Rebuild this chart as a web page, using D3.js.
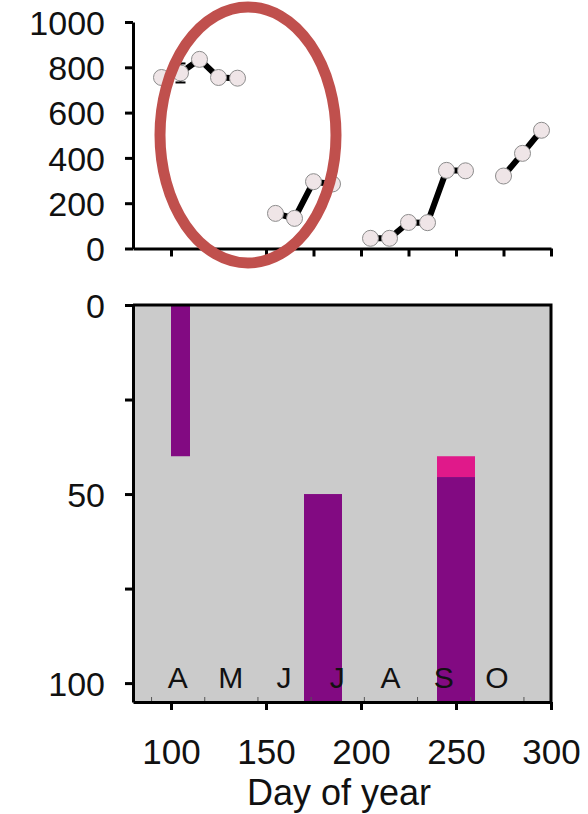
<!DOCTYPE html>
<html lang="en">
	<head>
		<meta charset="UTF-8" />
		<title>Day of year</title>
		<script src="https://d3js.org/d3.v7.min.js"></script>
		<style>
			body {
				margin: 0;
				background: #fff;
			}
			svg {
				font-family: "Liberation Sans", Arial, sans-serif;
			}
			.axis path,
			.axis line {
				stroke: #000;
				stroke-width: 3;
			}
			.axis text {
				fill: #111;
			}
		</style>
	</head>
	<body>
		<svg></svg>
		<script>
			// Top panel: points grouped in runs (day of year, value)
			const RUN_DAYS = [
				[95, 105, 115, 125, 135],
				[155, 165, 175, 185],
				[205, 215, 225, 235, 245, 255],
				[275, 285, 295],
			];
			const RUN_VALUES = [
				[755, 775, 835, 755, 752],
				[155, 133, 295, 285],
				[45, 45, 115, 114, 345, 343],
				[320, 420, 522],
			];
			const ERROR_DAYS = [105];
			const ERROR_VALUES = [775];
			const ERROR_SIZE = [42];

			// Bottom panel: bars (day span and depth span)
			const PURPLE_BARS = [
				{ start: 100, end: 110, from: 0, to: 40 },
				{ start: 170, end: 190, from: 50, to: 105 },
				{ start: 240, end: 260, from: 45.5, to: 105 },
			];
			const MAGENTA_BARS = [{ start: 240, end: 260, from: 40, to: 45.5 }];

			// Month letters and boundaries
			const MONTH_LABELS = ["A", "M", "J", "J", "A", "S", "O"];
			const MONTH_DAYS = [103.5, 131.5, 159.5, 187.5, 215.5, 243.5, 271.5];
			const MONTH_EDGES = [89.5, 117.5, 145.5, 173.5, 201.5, 229.5, 257.5, 285.5];

			const TOP_TICKS = [0, 200, 400, 600, 800, 1000];
			const TOP_X_TICKS = [100, 125, 150, 175, 200, 225, 250, 275, 300];
			const DEPTH_TICKS = [0, 25, 50, 75, 100];
			const DEPTH_LABELS = [0, 50, 100];
			const DAY_TICKS = [100, 150, 200, 250, 300];

			const WIDTH = 588;
			const HEIGHT = 814;
			const LEFT = 133;
			const RIGHT = 551;

			const svg = d3.select("svg").attr("width", WIDTH).attr("height", HEIGHT);

			const x = d3.scaleLinear().domain([80, 300]).range([LEFT, RIGHT]);
			const yTop = d3.scaleLinear().domain([0, 1000]).range([248.5, 22]);
			const yBottom = d3.scaleLinear().domain([0, 105]).range([305, 702]);

			// ---------- top panel ----------
			const topPanel = svg.append("g");

			topPanel
				.append("g")
				.attr("class", "axis")
				.attr("transform", `translate(0, ${yTop(0)})`)
				.call(d3.axisBottom(x).tickValues(TOP_X_TICKS).tickSize(8).tickSizeOuter(0).tickFormat(""));

			const yTopAxis = topPanel
				.append("g")
				.attr("class", "axis")
				.attr("transform", `translate(${LEFT}, 0)`)
				.call(
					d3.axisLeft(yTop).tickValues(TOP_TICKS).tickSize(8).tickSizeOuter(0).tickPadding(20).tickFormat(d3.format("d"))
				);
			yTopAxis.selectAll("text").style("font-size", "34px").attr("dy", "0.36em");

			const line = d3
				.line()
				.x((d) => x(d[0]))
				.y((d) => yTop(d[1]));

			const runs = RUN_DAYS.map((days, i) => days.map((d, j) => [d, RUN_VALUES[i][j]]));

			topPanel
				.selectAll(".run")
				.data(runs)
				.enter()
				.append("path")
				.attr("class", "run")
				.attr("d", line)
				.attr("fill", "none")
				.attr("stroke", "#000")
				.attr("stroke-width", 6);

			// error bar
			ERROR_DAYS.forEach((d, i) => {
				const cx = x(d);
				const y0 = yTop(ERROR_VALUES[i] - ERROR_SIZE[i]);
				const y1 = yTop(ERROR_VALUES[i] + ERROR_SIZE[i]);
				topPanel.append("line").attr("x1", cx).attr("x2", cx).attr("y1", y0).attr("y2", y1).attr("stroke", "#000").attr("stroke-width", 2);
				[y0, y1].forEach((yy) => {
					topPanel
						.append("line")
						.attr("x1", cx - 5)
						.attr("x2", cx + 5)
						.attr("y1", yy)
						.attr("y2", yy)
						.attr("stroke", "#000")
						.attr("stroke-width", 2);
				});
			});

			topPanel
				.selectAll(".pt")
				.data(runs.flat())
				.enter()
				.append("circle")
				.attr("class", "pt")
				.attr("cx", (d) => x(d[0]))
				.attr("cy", (d) => yTop(d[1]))
				.attr("r", 8)
				.attr("fill", "#efe5e7")
				.attr("stroke", "#8c8c8c")
				.attr("stroke-width", 1);

			// ---------- bottom panel ----------
			const bottomPanel = svg.append("g");

			bottomPanel
				.append("rect")
				.attr("x", LEFT)
				.attr("y", yBottom(0))
				.attr("width", RIGHT - LEFT)
				.attr("height", yBottom(105) - yBottom(0))
				.attr("fill", "#cbcbcb");

			function drawBars(data, color) {
				bottomPanel
					.selectAll(null)
					.data(data)
					.enter()
					.append("rect")
					.attr("x", (d) => x(d.start))
					.attr("width", (d) => x(d.end) - x(d.start))
					.attr("y", (d) => yBottom(d.from))
					.attr("height", (d) => yBottom(d.to) - yBottom(d.from))
					.attr("fill", color);
			}
			drawBars(PURPLE_BARS, "#820a82");
			drawBars(MAGENTA_BARS, "#e0198a");

			// month boundaries (small inward ticks) and letters
			bottomPanel
				.append("g")
				.attr("transform", `translate(0, ${yBottom(105)})`)
				.call(d3.axisTop(x).tickValues(MONTH_EDGES).tickSize(5).tickFormat(""))
				.call((g) => g.select(".domain").remove())
				.selectAll("line")
				.attr("stroke", "#555")
				.attr("stroke-width", 1);

			bottomPanel
				.selectAll(".month")
				.data(MONTH_LABELS)
				.enter()
				.append("text")
				.attr("class", "month")
				.attr("x", (d, i) => x(MONTH_DAYS[i]))
				.attr("y", 688)
				.attr("text-anchor", "middle")
				.style("font-size", "30px")
				.attr("fill", "#111")
				.text((d) => d);

			// frame
			bottomPanel
				.append("path")
				.attr("d", `M${LEFT},${yBottom(0)}H${RIGHT}V${yBottom(105)}`)
				.attr("fill", "none")
				.attr("stroke", "#000")
				.attr("stroke-width", 3);

			const depthAxis = bottomPanel
				.append("g")
				.attr("class", "axis")
				.attr("transform", `translate(${LEFT}, 0)`)
				.call(
					d3
						.axisLeft(yBottom)
						.tickValues(DEPTH_TICKS)
						.tickSize(8)
						.tickSizeOuter(0)
						.tickPadding(20)
						.tickFormat((d) => (DEPTH_LABELS.includes(d) ? d : ""))
				);
			depthAxis.selectAll("text").style("font-size", "34px").attr("dy", "0.36em");

			const dayAxis = bottomPanel
				.append("g")
				.attr("class", "axis")
				.attr("transform", `translate(0, ${yBottom(105)})`)
				.call(d3.axisBottom(x).tickValues(DAY_TICKS).tickSize(8).tickSizeOuter(0));
			dayAxis.selectAll("text").style("font-size", "35px").attr("y", 62).attr("dy", 0);

			svg.append("text")
				.attr("x", 339)
				.attr("y", 805)
				.attr("text-anchor", "middle")
				.style("font-size", "36px")
				.attr("fill", "#111")
				.text("Day of year");

			// highlight ellipse
			svg.append("ellipse")
				.attr("cx", 248)
				.attr("cy", 135)
				.attr("rx", 88)
				.attr("ry", 128)
				.attr("fill", "none")
				.attr("stroke", "#c0504d")
				.attr("stroke-width", 11);
		</script>
	</body>
</html>
